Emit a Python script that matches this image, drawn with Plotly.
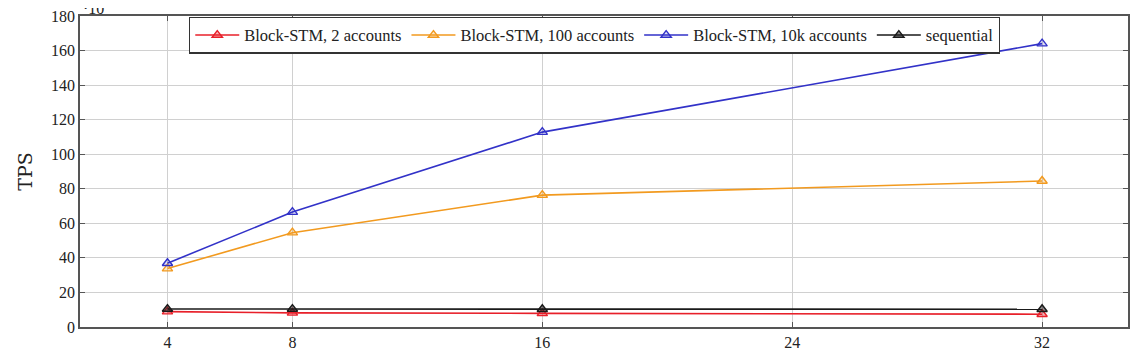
import plotly.graph_objects as go

threads = [4, 8, 16, 32]
tps_2acc = [8.9, 8.2, 7.9, 7.4]
tps_100acc = [33.8, 54.6, 76.3, 84.5]
tps_10kacc = [36.9, 66.5, 112.8, 164.0]
tps_seq = [10.4, 10.4, 10.3, 10.3]

x_ticks = [4, 8, 16, 24, 32]
y_ticks = [0, 20, 40, 60, 80, 100, 120, 140, 160, 180]

series = [
    ("Block-STM, 2 accounts", tps_2acc, "#e8202a", "rgba(232,32,42,0.35)"),
    ("Block-STM, 100 accounts", tps_100acc, "#f29a1f", "rgba(242,154,31,0.25)"),
    ("Block-STM, 10k accounts", tps_10kacc, "#3232c8", "rgba(50,50,200,0.15)"),
    ("sequential", tps_seq, "#1a1a1a", "rgba(26,26,26,0.5)"),
]

font_family = "Liberation Serif, DejaVu Serif, serif"

fig = go.Figure()
for name, vals, col, fill in series:
    fig.add_trace(go.Scatter(
        x=threads, y=vals, name=name, mode="lines+markers",
        line=dict(color=col, width=1.6),
        marker=dict(symbol="triangle-up", size=9, color=fill,
                    line=dict(color=col, width=1.4)),
    ))

# page body adds an 8px offset, so the figure is sized to compensate
fig.update_layout(
    width=1140, height=348,
    margin=dict(l=72, r=20, t=8, b=29, autoexpand=False),
    paper_bgcolor="white", plot_bgcolor="white",
    font=dict(family=font_family, size=16, color="#222"),
    showlegend=True,
    legend=dict(
        orientation="h", x=0.491, xanchor="center", y=0.998, yanchor="top",
        bordercolor="#333", borderwidth=1.2, bgcolor="white",
        font=dict(family=font_family, size=16.5, color="#222"),
        itemwidth=44, tracegroupgap=0,
    ),
)

fig.update_xaxes(
    range=[1.2, 34.75], tickvals=x_ticks, ticktext=[str(v) for v in x_ticks],
    showgrid=True, gridcolor="#d0d0d0", gridwidth=1, automargin=False,
    showline=True, linecolor="#555", linewidth=1.6, mirror="ticks",
    ticks="inside", ticklen=5, tickcolor="#555", zeroline=False,
    ticklabeloverflow="allow",
    tickfont=dict(family=font_family, size=16, color="#222"),
)
fig.update_yaxes(
    range=[0, 180], tickvals=y_ticks, ticktext=[str(v) for v in y_ticks],
    showgrid=True, gridcolor="#d0d0d0", gridwidth=1, automargin=False,
    showline=True, linecolor="#555", linewidth=1.6, mirror="ticks",
    ticks="inside", ticklen=5, tickcolor="#555", zeroline=False,
    ticklabeloverflow="allow",
    tickfont=dict(family=font_family, size=16, color="#222"),
    title=dict(text="TPS", font=dict(family="DejaVu Serif, serif", size=19, color="#222"), standoff=13),
)

fig.add_annotation(
    xref="paper", yref="paper", x=0.0, y=1.0, xanchor="left", yanchor="bottom",
    xshift=1, yshift=-3, showarrow=False, text="·10<sup>3</sup>",
    font=dict(family=font_family, size=16, color="#222"),
)
fig.add_annotation(
    xref="paper", yref="paper", x=0.5, y=0.0, xanchor="center", yanchor="top",
    yshift=-24, showarrow=False, text="Number of threads",
    font=dict(family=font_family, size=17, color="#222"),
)

fig.write_html("out.html")
